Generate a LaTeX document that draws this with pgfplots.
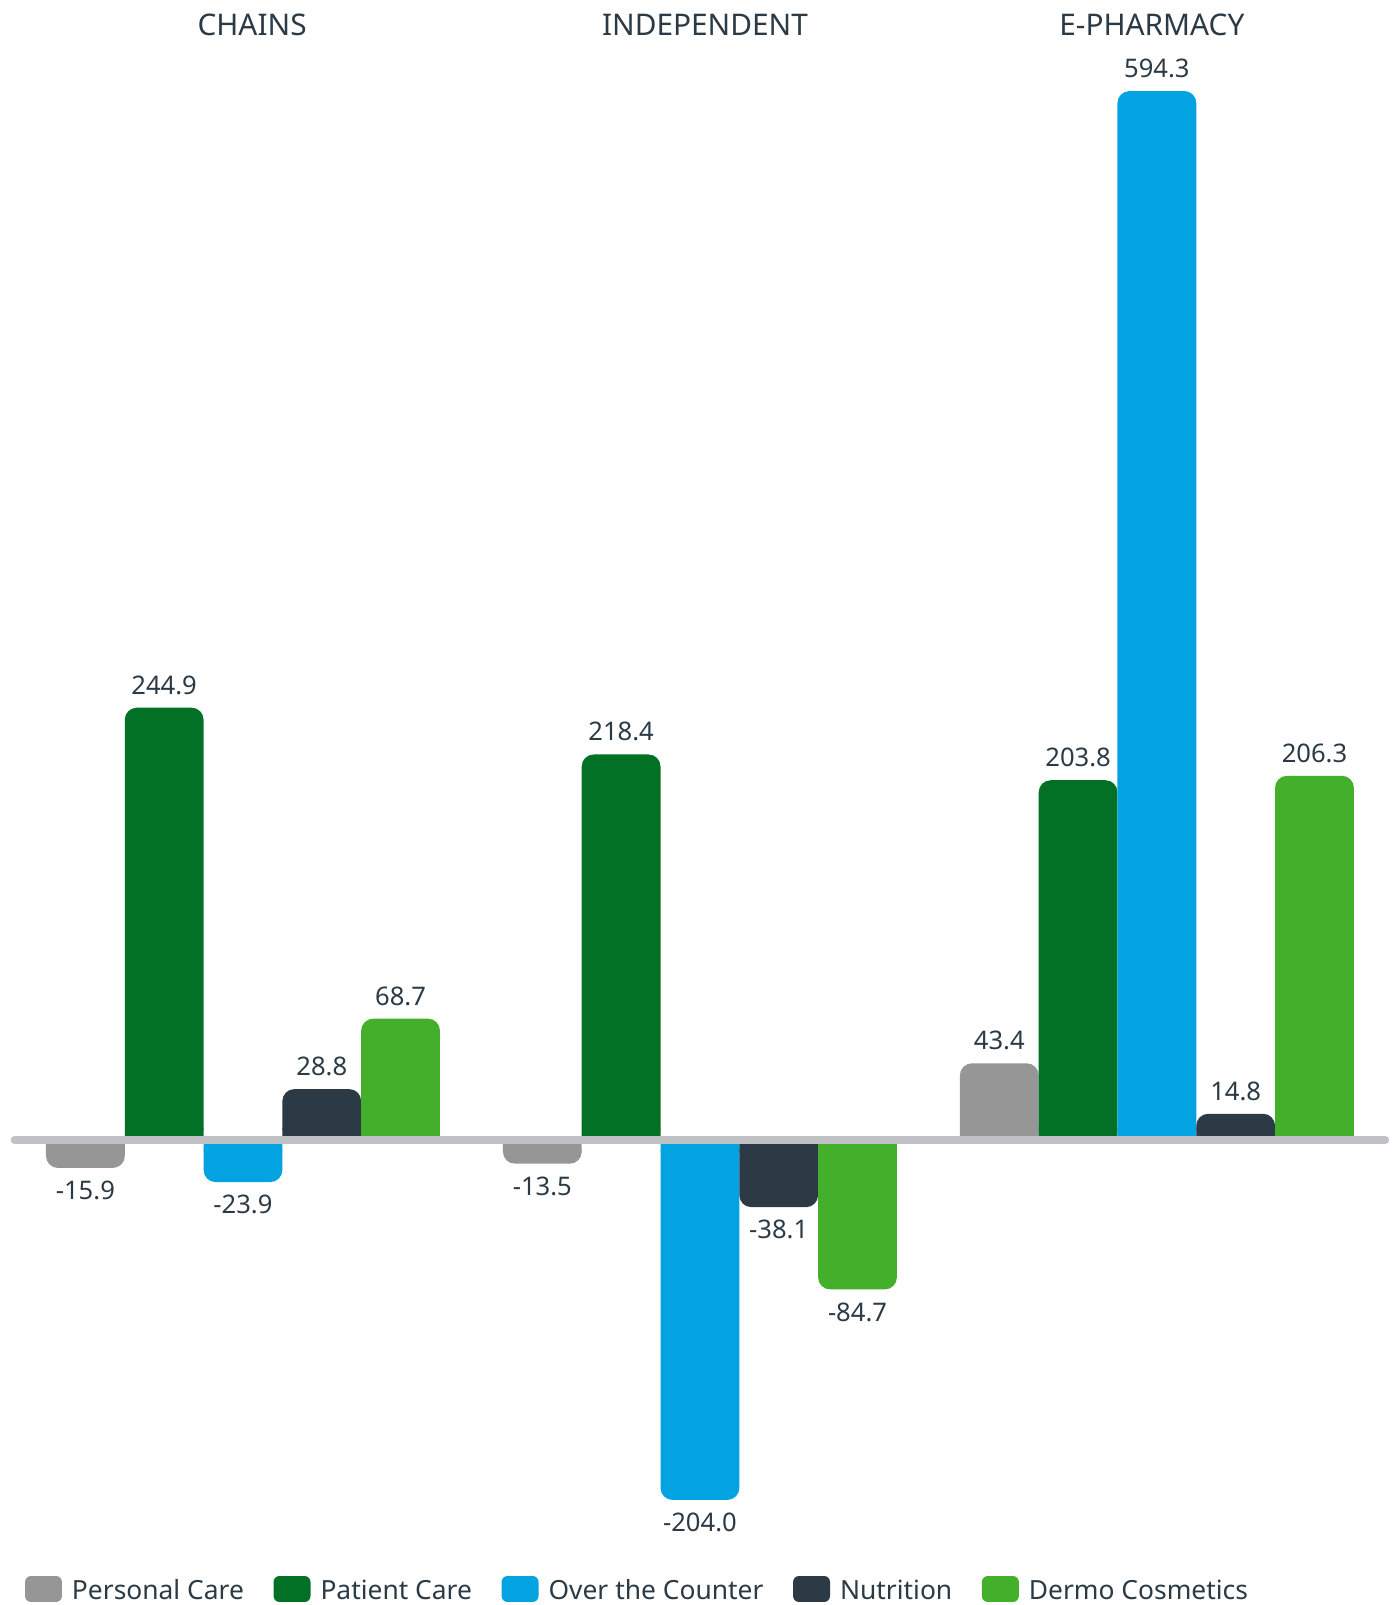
\documentclass[border=0pt]{standalone}
\usepackage{fontspec}
\setmainfont{Noto Sans}
\usepackage{pgfplots}
\usepackage{pgfplotstable}
\pgfplotsset{compat=1.18}

\definecolor{cPersonal}{HTML}{969696}
\definecolor{cPatient}{HTML}{037125}
\definecolor{cOTC}{HTML}{02A3E0}
\definecolor{cNutrition}{HTML}{2B3A44}
\definecolor{cDermo}{HTML}{44AF2B}
\definecolor{cBase}{HTML}{C0C1C5}
\definecolor{cText}{HTML}{2B3A44}

% value change by channel (0 = Chains, 1 = Independent, 2 = E-Pharmacy)
\pgfplotstableread{
x   pc     pat    otc     nut    der
0  -15.9  244.9  -23.9    28.8   68.7
1  -13.5  218.4  -204.0  -38.1  -84.7
2   43.4  203.8  594.3    14.8   206.3
}\datatable

\pgfplotsset{
  roundbar/.style={ybar, bar width=39.4pt, draw=none, fill=#1, rounded corners=6pt,
    legend image code/.code={\fill[fill=#1, rounded corners=3pt] (0pt,-5.25pt) rectangle (18.5pt,7.75pt);}},
  squarebase/.style={ybar, bar width=39.4pt, draw=none, fill=#1, forget plot},
  valuelabels/.style={nodes near coords={\pgfmathprintnumber[fixed, fixed zerofill, precision=1, assume math mode=true]{\pgfplotspointmeta}},
    nodes near coords style={font=\fontsize{12.8}{14}\selectfont, text=cText, inner xsep=0pt, inner ysep=6.4pt, xshift=#1}},
}
\tikzset{channel/.style={font=\fontsize{14.9}{17}\selectfont, text=cText}}

\begin{document}
\begin{tikzpicture}
\begin{axis}[
  x=228.5pt, y=0.8825pt,
  xmin=-0.5317, xmax=2.5252,
  ymin=-263.5, ymax=645.9,
  hide axis, clip=false,
  legend columns=5,
  legend style={at={(rel axis cs:0.0179,0.0090)}, anchor=west, draw=none, fill=none,
    inner sep=0pt, outer sep=0pt,
    font=\fontsize{13.2}{15}\selectfont, text=cText,
    nodes={inner sep=0pt, text height=10.5pt, text depth=3pt},
    /tikz/every odd column/.append style={column sep=5pt},
    /tikz/every even column/.append style={column sep=14.8pt}},
]
\path (rel axis cs:0,0) rectangle (rel axis cs:1,1);

% base parts with square corners next to the zero line
\addplot[squarebase=cPersonal, bar shift=-78.8pt] table[x=x, y expr={\thisrow{pc}>0 ? min(\thisrow{pc},7) : max(\thisrow{pc},-7)}] {\datatable};
\addplot[squarebase=cPatient, bar shift=-39.4pt] table[x=x, y expr={\thisrow{pat}>0 ? min(\thisrow{pat},7) : max(\thisrow{pat},-7)}] {\datatable};
\addplot[squarebase=cOTC, bar shift=0pt] table[x=x, y expr={\thisrow{otc}>0 ? min(\thisrow{otc},7) : max(\thisrow{otc},-7)}] {\datatable};
\addplot[squarebase=cNutrition, bar shift=39.4pt] table[x=x, y expr={\thisrow{nut}>0 ? min(\thisrow{nut},7) : max(\thisrow{nut},-7)}] {\datatable};
\addplot[squarebase=cDermo, bar shift=78.8pt] table[x=x, y expr={\thisrow{der}>0 ? min(\thisrow{der},7) : max(\thisrow{der},-7)}] {\datatable};

% full bars with rounded ends
\addplot[roundbar=cPersonal, bar shift=-78.8pt, valuelabels=-78.8pt] table[x=x, y=pc] {\datatable};
\addlegendentry{Personal Care}
\addplot[roundbar=cPatient, bar shift=-39.4pt, valuelabels=-39.4pt] table[x=x, y=pat] {\datatable};
\addlegendentry{Patient Care}
\addplot[roundbar=cOTC, bar shift=0pt, valuelabels=0pt] table[x=x, y=otc] {\datatable};
\addlegendentry{Over the Counter}
\addplot[roundbar=cNutrition, bar shift=39.4pt, valuelabels=39.4pt] table[x=x, y=nut] {\datatable};
\addlegendentry{Nutrition}
\addplot[roundbar=cDermo, bar shift=78.8pt, valuelabels=78.8pt] table[x=x, y=der] {\datatable};
\addlegendentry{Dermo Cosmetics}

% zero line
\addplot[cBase, line width=3.8pt, line cap=round, forget plot] coordinates {(-0.5,0) (2.5,0)};

% channel titles
\node[channel] at (axis cs:0.02,632) {CHAINS};
\node[channel] at (axis cs:1.011,632) {INDEPENDENT};
\node[channel] at (axis cs:1.989,632) {E-PHARMACY};
\end{axis}
\end{tikzpicture}
\end{document}
